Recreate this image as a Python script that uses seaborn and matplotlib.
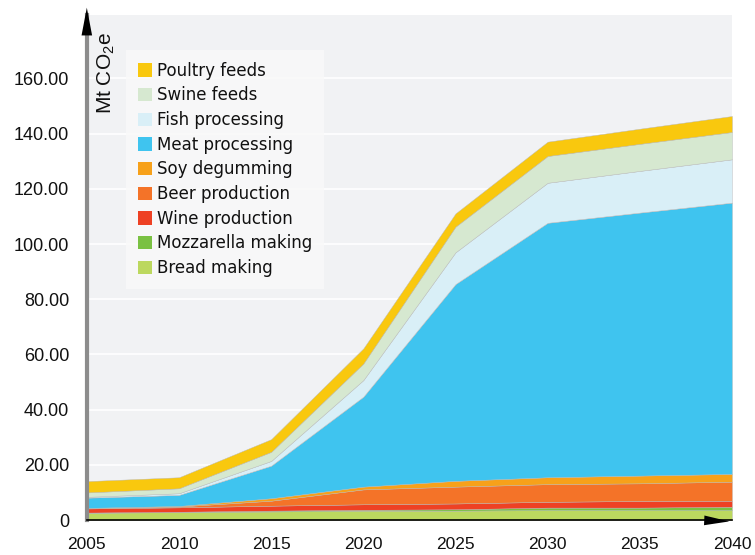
import matplotlib
matplotlib.use("Agg")
import matplotlib.pyplot as plt
import seaborn as sns

# Data (Mt CO2e per sector, stacked)
years = [2005, 2010, 2015, 2020, 2025, 2030, 2035, 2040]
bread = [2.6, 2.9, 3.1, 3.4, 3.4, 3.6, 3.6, 3.6]
mozzarella = [0.1, 0.1, 0.3, 0.3, 0.5, 0.9, 0.9, 1.2]
wine = [1.5, 1.6, 1.8, 2.0, 2.1, 2.1, 2.4, 2.2]
beer = [0.1, 0.3, 1.8, 5.4, 6.1, 6.4, 6.4, 6.9]
soy = [0.1, 0.2, 0.9, 1.0, 2.1, 2.5, 2.8, 2.8]
meat = [3.7, 4.0, 11.8, 32.6, 71.3, 92.2, 95.3, 98.3]
fish = [0.3, 0.6, 1.7, 6.0, 11.5, 14.5, 15.1, 15.7]
swine = [1.6, 1.8, 3.3, 6.0, 9.3, 9.7, 9.8, 9.9]
poultry = [4.1, 4.0, 4.6, 5.5, 4.8, 5.2, 5.5, 5.8]

labels = ["Bread making", "Mozzarella making", "Wine production", "Beer production",
          "Soy degumming", "Meat processing", "Fish processing", "Swine feeds", "Poultry feeds"]
colors = ["#bcd85f", "#7ac143", "#ee4124", "#f47328", "#f7a11a",
          "#3fc4ef", "#d9eff7", "#d6e8d0", "#f9c80e"]

yticks = [0, 20, 40, 60, 80, 100, 120, 140, 160]
ytick_labels = ["0", "20.00", "40.00", "60.00", "80.00", "100.00", "120.00", "140.00", "160.00"]

sns.set_style("white")
plt.rcParams["font.family"] = ["Liberation Sans", "DejaVu Sans"]
plt.rcParams["mathtext.default"] = "regular"

fig = plt.figure(figsize=(7.55, 5.55), dpi=100)
ax = fig.add_axes([0.115, 0.063, 0.8545, 0.91])
ax.set_facecolor("#f1f2f4")

ax.stackplot(years, bread, mozzarella, wine, beer, soy, meat, fish, swine, poultry,
             labels=labels, colors=colors, edgecolor="#b8b8b8", linewidth=0.3, zorder=2)

ax.set_xlim(2005, 2040)
ax.set_ylim(0, 183)
ax.set_xticks(years)
ax.set_yticks(yticks)
ax.set_yticklabels(ytick_labels)
ax.tick_params(axis="x", labelsize=12.5, labelcolor="#111111", length=4.5, width=1,
               color="black", direction="out", pad=7.5)
ax.tick_params(axis="y", labelsize=13, labelcolor="#111111", length=3.6, width=1,
               color="#888888", direction="out", pad=9)
ax.grid(axis="y", color="white", linewidth=1.2, zorder=1)
ax.set_axisbelow(True)

for s in ["top", "right"]:
    ax.spines[s].set_visible(False)
ax.spines["left"].set_color("#8c8c8c")
ax.spines["left"].set_linewidth(3)
ax.spines["bottom"].set_color("black")
ax.spines["bottom"].set_linewidth(1.2)

# axis arrows
ax.annotate("", xy=(0, 1.02), xycoords="axes fraction", xytext=(0, 0.945),
            arrowprops=dict(arrowstyle="-|>,head_length=2.0,head_width=0.38", color="black", lw=0),
            annotation_clip=False)
ax.annotate("", xy=(1.0, -0.003), xycoords="axes fraction", xytext=(0.945, 0.0),
            arrowprops=dict(arrowstyle="-|>,head_length=1.8,head_width=0.35", color="black", lw=0),
            annotation_clip=False)

ax.text(0.013, 0.967, "Mt CO$_{2}$e", transform=ax.transAxes, rotation=90,
        ha="left", va="top", fontsize=15, color="#111111")

handles, labs = ax.get_legend_handles_labels()
leg = ax.legend(handles[::-1], labs[::-1], loc="upper left", bbox_to_anchor=(0.0605, 0.9307),
                borderaxespad=0, prop={"family": "DejaVu Sans", "size": 12},
                frameon=True, fancybox=False, framealpha=0.85,
                facecolor="#f9f9f9", edgecolor="none", handlelength=0.85, handleheight=0.85,
                labelspacing=0.4, borderpad=0.7, handletextpad=0.3)
for h in leg.legend_handles:
    h.set_edgecolor("none")
for t in leg.get_texts():
    t.set_color("#111111")

fig.savefig("out.png", dpi=100)
